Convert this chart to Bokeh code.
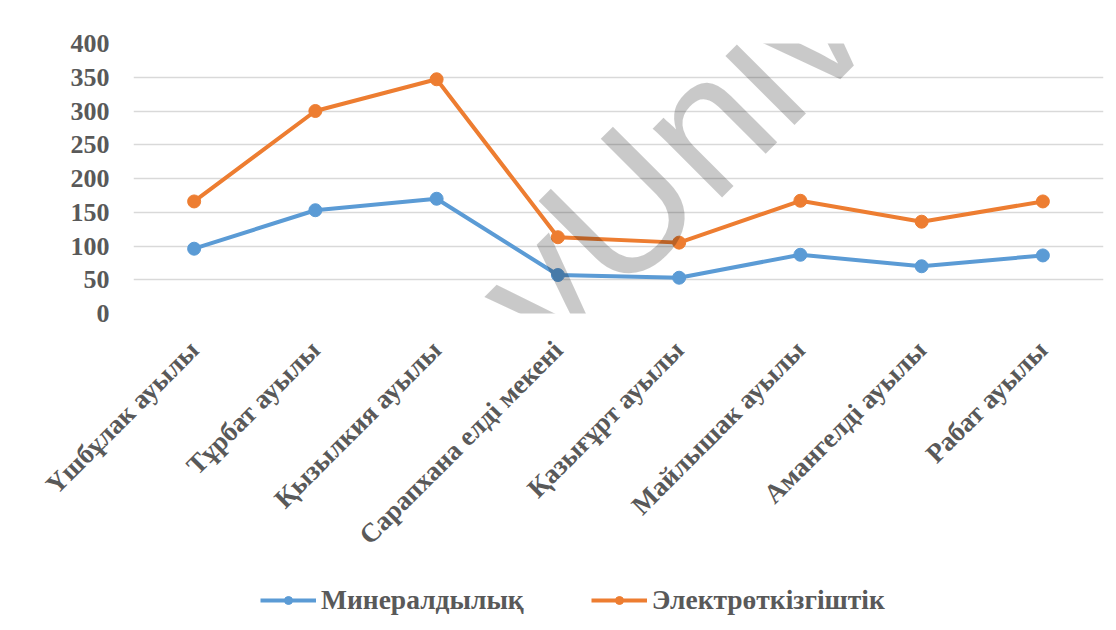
from math import radians
from bokeh.plotting import figure
from bokeh.layouts import column
from bokeh.models import Range1d, Legend, LegendItem, FixedTicker, Label
from bokeh.embed import file_html
from bokeh.resources import INLINE

categories = ["Үшбұлак ауылы", "Тұрбат ауылы", "Қызылкия ауылы", "Сарапхана елді мекені",
              "Қазығұрт ауылы", "Майлышак ауылы", "Амангелді ауылы", "Рабат ауылы"]
mineral = [96, 153, 170, 57, 53, 87, 70, 86]
conductivity = [166, 300, 347, 113, 105, 167, 136, 166]
series_names = ["Минералдылық", "Электрөткізгіштік"]
y_ticks = [0, 50, 100, 150, 200, 250, 300, 350, 400]

BLUE = "#5B9BD5"
ORANGE = "#ED7D31"
TXT = "#595959"
SERIF = "Liberation Serif"

# ---- main chart ----
p = figure(x_range=categories, y_range=Range1d(0, 400),
           frame_width=970, frame_height=270,
           output_backend="svg", toolbar_location=None,
           min_border_left=133, min_border_right=7, min_border_top=43,
           min_border_bottom=262)
p.outline_line_color = None
p.background_fill_color = "white"
p.border_fill_color = "white"

p.xgrid.grid_line_color = None
p.ygrid.grid_line_color = "#d9d9d9"
p.ygrid.grid_line_width = 1.5
p.yaxis.ticker = FixedTicker(ticks=y_ticks)
p.yaxis.axis_line_color = None
p.yaxis.major_tick_line_color = None
p.yaxis.minor_tick_line_color = None
p.yaxis.major_label_standoff = 18
p.yaxis.major_label_text_font = SERIF
p.yaxis.major_label_text_font_style = "bold"
p.yaxis.major_label_text_font_size = "26px"
p.yaxis.major_label_text_color = TXT

p.xaxis.axis_line_color = None
p.xaxis.major_tick_line_color = None
p.xaxis.minor_tick_line_color = None
p.xaxis.major_label_orientation = radians(45)
p.xaxis.major_label_standoff = 26
p.xaxis.major_label_text_font = SERIF
p.xaxis.major_label_text_font_style = "bold"
p.xaxis.major_label_text_font_size = "27px"
p.xaxis.major_label_text_color = TXT

p.line(categories, mineral, line_color=BLUE, line_width=4)
p.scatter(categories, mineral, size=13, fill_color=BLUE, line_color=BLUE)
p.line(categories, conductivity, line_color=ORANGE, line_width=4)
p.scatter(categories, conductivity, size=13, fill_color=ORANGE, line_color=ORANGE)

# watermark (visible inside the plotting area)
p.add_layout(Label(x=-33, y=-415, x_units="screen", y_units="screen", text="BuketovUniv",
                   angle=radians(45), text_font="Liberation Sans", text_font_size="185px",
                   text_color="black", text_alpha=0.21, text_align="left",
                   text_baseline="alphabetic"))

# ---- legend strip (same series, plotted out of view so only the legend shows) ----
q = figure(x_range=categories, y_range=Range1d(1000, 1001), width=1110, height=55,
           output_backend="svg", toolbar_location=None,
           x_axis_location=None, y_axis_location=None, min_border=0)
q.outline_line_color = None
q.grid.visible = False
q.background_fill_color = "white"
q.border_fill_color = "white"
m1 = q.line(categories, mineral, line_color=BLUE, line_width=4)
n1 = q.scatter(categories, mineral, size=13, fill_color=BLUE, line_color=BLUE)
m2 = q.line(categories, conductivity, line_color=ORANGE, line_width=4)
n2 = q.scatter(categories, conductivity, size=13, fill_color=ORANGE, line_color=ORANGE)

legend = Legend(items=[LegendItem(label=series_names[0], renderers=[m1, n1]),
                       LegendItem(label=series_names[1], renderers=[m2, n2])],
                location=(127, 14), orientation="horizontal", padding=0, margin=0,
                spacing=67, glyph_width=56, glyph_height=20, label_standoff=5,
                border_line_color=None, background_fill_alpha=0,
                label_text_font=SERIF, label_text_font_style="bold",
                label_text_font_size="27.5px", label_text_color=TXT)
q.add_layout(legend)

layout = column(p, q, spacing=0)
open("out.html", "w").write(file_html(layout, INLINE))
